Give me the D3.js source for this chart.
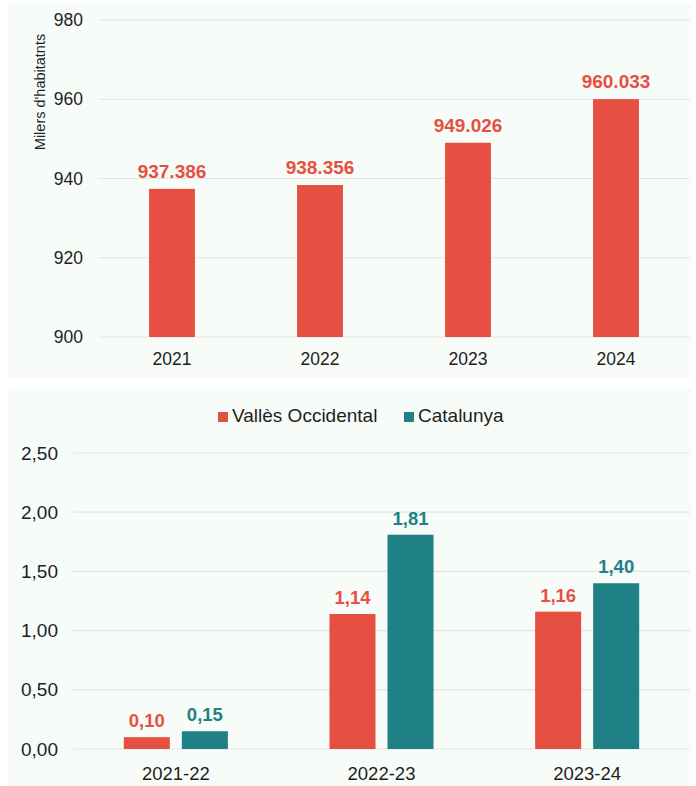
<!DOCTYPE html>
<html>
<head>
<meta charset="utf-8">
<script src="https://cdn.jsdelivr.net/npm/d3@7"></script>
<style>
  body { margin: 0; background: #ffffff; }
  svg { display: block; font-family: "Liberation Sans", Arial, sans-serif; }
</style>
</head>
<body>
<svg id="chart" width="696" height="786"></svg>
<script>
// top chart: population (thousands)
const years = ["2021", "2022", "2023", "2024"];
const population = [937.386, 938.356, 949.026, 960.033];
const popLabels = ["937.386", "938.356", "949.026", "960.033"];
const popTicks = [900, 920, 940, 960, 980];

// bottom chart: growth rate
const periods = ["2021-22", "2022-23", "2023-24"];
const seriesNames = ["Vallès Occidental", "Catalunya"];
const vallesGrowth = [0.10, 1.14, 1.16];
const catalunyaGrowth = [0.15, 1.81, 1.40];
const growthTicks = [0, 0.5, 1.0, 1.5, 2.0, 2.5];

const RED = "#e65043";
const TEAL = "#1f8185";
const GRID = "#e2e4e2";
const PANEL = "#f8fcf8";
const TXT = "#1e1e1e";

const svg = d3.select("#chart");

function fmtComma(v, d) {
    return v.toFixed(d).replace(".", ",");
}

function makeGrid(g, y, ticks, x1, x2, fmt, labelX, fs) {
    ticks.forEach(t => {
        g.append("line")
            .attr("x1", x1).attr("x2", x2)
            .attr("y1", y(t)).attr("y2", y(t))
            .attr("stroke", GRID).attr("stroke-width", 1.2);
        g.append("text")
            .attr("x", labelX).attr("y", y(t))
            .attr("dy", "0.35em")
            .attr("text-anchor", "end")
            .attr("font-size", fs)
            .attr("fill", TXT)
            .text(fmt(t));
    });
}

// ---------- top panel ----------
svg.append("rect").attr("x", 8).attr("y", 3).attr("width", 684).attr("height", 375).attr("fill", PANEL);

const topG = svg.append("g");
const xTop = d3.scaleBand().domain(years).range([98, 690]).paddingInner(0.69).paddingOuter(0.345);
const yTop = d3.scaleLinear().domain([900, 980]).range([337, 20]);

makeGrid(topG, yTop, popTicks, 98, 690, d => d, 83, 17.5);

topG.selectAll("rect.bar")
    .data(population)
    .join("rect")
    .attr("class", "bar")
    .attr("x", (d, i) => xTop(years[i]))
    .attr("width", xTop.bandwidth())
    .attr("y", d => yTop(d))
    .attr("height", d => yTop(900) - yTop(d))
    .attr("fill", RED);

topG.selectAll("text.val")
    .data(population)
    .join("text")
    .attr("class", "val")
    .attr("x", (d, i) => xTop(years[i]) + xTop.bandwidth() / 2)
    .attr("y", d => yTop(d) - 11)
    .attr("text-anchor", "middle")
    .attr("font-size", 19)
    .attr("font-weight", "bold")
    .attr("fill", RED)
    .text((d, i) => popLabels[i]);

topG.selectAll("text.cat")
    .data(years)
    .join("text")
    .attr("class", "cat")
    .attr("x", d => xTop(d) + xTop.bandwidth() / 2)
    .attr("y", 365)
    .attr("text-anchor", "middle")
    .attr("font-size", 17.5)
    .attr("fill", TXT)
    .text(d => d);

topG.append("text")
    .attr("transform", "translate(45,92) rotate(-90)")
    .attr("text-anchor", "middle")
    .attr("font-size", 14.5)
    .attr("fill", TXT)
    .text("Milers d'habitatnts");

// ---------- bottom panel ----------
svg.append("rect").attr("x", 8).attr("y", 389).attr("width", 684).attr("height", 397).attr("fill", PANEL);

const botG = svg.append("g");
const x0 = d3.scaleBand().domain(periods).range([73, 690]).paddingInner(0.494).paddingOuter(0.247);
const x1 = d3.scaleBand().domain(seriesNames).range([0, x0.bandwidth()]).paddingInner(0.207);
const yBot = d3.scaleLinear().domain([0, 2.5]).range([749, 453]);
const colors = [RED, TEAL];
const series = [vallesGrowth, catalunyaGrowth];

makeGrid(botG, yBot, growthTicks, 73, 690, d => fmtComma(d, 2), 58, 19);

series.forEach((vals, s) => {
    const g = botG.append("g");
    g.selectAll("rect")
        .data(vals)
        .join("rect")
        .attr("x", (d, i) => x0(periods[i]) + x1(seriesNames[s]))
        .attr("width", x1.bandwidth())
        .attr("y", d => yBot(d))
        .attr("height", d => yBot(0) - yBot(d))
        .attr("fill", colors[s]);
    g.selectAll("text")
        .data(vals)
        .join("text")
        .attr("x", (d, i) => x0(periods[i]) + x1(seriesNames[s]) + x1.bandwidth() / 2)
        .attr("y", d => yBot(d) - 10)
        .attr("text-anchor", "middle")
        .attr("font-size", 18.5)
        .attr("font-weight", "bold")
        .attr("fill", colors[s])
        .text(d => fmtComma(d, 2));
});

botG.selectAll("text.cat")
    .data(periods)
    .join("text")
    .attr("class", "cat")
    .attr("x", d => x0(d) + x0.bandwidth() / 2)
    .attr("y", 780)
    .attr("text-anchor", "middle")
    .attr("font-size", 18.5)
    .attr("fill", TXT)
    .text(d => d);

// legend
const legendX = [218, 404];
seriesNames.forEach((name, s) => {
    botG.append("rect")
        .attr("x", legendX[s]).attr("y", 412)
        .attr("width", 10).attr("height", 10)
        .attr("fill", colors[s]);
    botG.append("text")
        .attr("x", legendX[s] + 14).attr("y", 422)
        .attr("font-size", 19)
        .attr("fill", TXT)
        .text(name);
});
</script>
</body>
</html>
